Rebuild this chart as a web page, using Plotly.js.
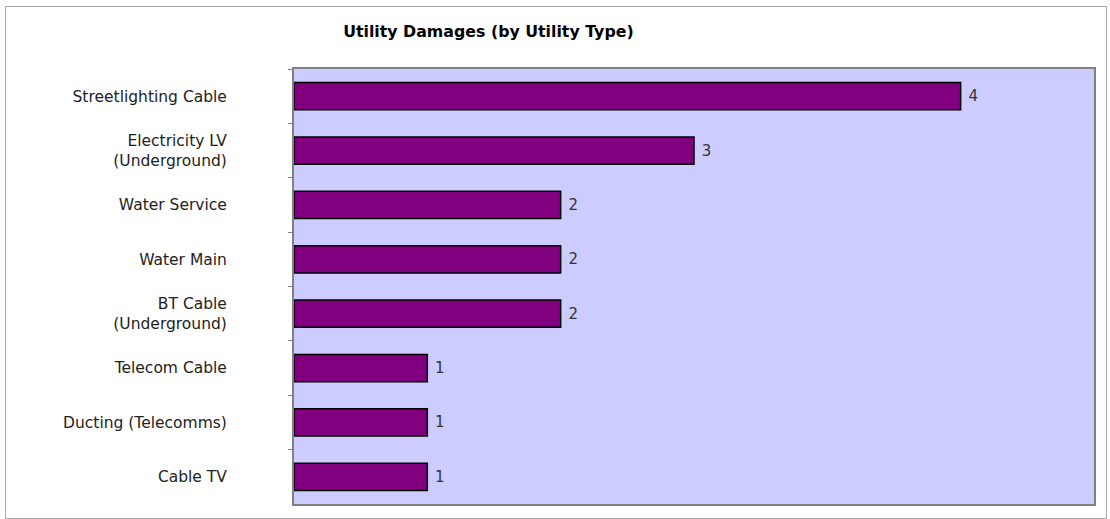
<!DOCTYPE html>
<html>
<head>
<meta charset="utf-8">
<script src="https://cdn.plot.ly/plotly-3.0.1.min.js"></script>
<style>
  body { margin: 0; background: #fff; }
  #chart { width: 1110px; height: 519px; position: absolute; left: 0; top: 0; }
  #frame { position: absolute; left: 5px; top: 6px; width: 1100px; height: 511px;
           border: 1px solid #a8a8a8; pointer-events: none; }
</style>
</head>
<body>
<div id="chart"></div>
<div id="frame"></div>
<script>
// categories, top to bottom
var categories = [
  "Streetlighting Cable",
  "Electricity LV<br>(Underground)",
  "Water Service",
  "Water Main",
  "BT Cable<br>(Underground)",
  "Telecom Cable",
  "Ducting (Telecomms)",
  "Cable TV"
];
// bar lengths as drawn (the top bar is drawn longer than its label says)
var barLengths = [5, 3, 2, 2, 2, 1, 1, 1];
// printed data labels
var dataLabels = ["4", "3", "2", "2", "2", "1", "1", "1"];

var trace = {
  type: "bar",
  orientation: "h",
  y: categories,
  x: barLengths,
  text: dataLabels,
  texttemplate: "\u00a0%{text}",
  textposition: "outside",
  cliponaxis: false,
  textfont: {family: "DejaVu Sans", size: 15, color: "#333"},
  marker: {color: "#800080", line: {color: "#000", width: 1.5}},
  hoverinfo: "none"
};

var layout = {
  width: 1110,
  height: 519,
  margin: {l: 294, r: 16, t: 69, b: 15},
  paper_bgcolor: "rgba(0,0,0,0)",
  plot_bgcolor: "#ccccff",
  showlegend: false,
  bargap: 0.5,
  font: {family: "DejaVu Sans", size: 15, color: "#222"},
  title: {
    text: "<b>Utility Damages (by Utility Type)</b>",
    font: {family: "DejaVu Sans", size: 15.8, color: "#000"},
    xref: "container", x: 0.44, xanchor: "center",
    yref: "container", y: 0.94, yanchor: "middle"
  },
  xaxis: {
    range: [0, 6],
    showticklabels: false,
    showgrid: false,
    zeroline: false,
    ticks: "",
    showline: true, mirror: true, linecolor: "#808080", linewidth: 2
  },
  yaxis: {
    type: "category",
    autorange: "reversed",
    tickson: "boundaries",
    ticks: "outside", ticklen: 4, tickcolor: "#808080",
    ticklabelstandoff: 62,
    showgrid: false,
    showline: true, mirror: true, linecolor: "#808080", linewidth: 2,
    tickfont: {family: "DejaVu Sans", size: 15.5, color: "#222"}
  }
};

Plotly.newPlot("chart", [trace], layout, {staticPlot: true});
</script>
</body>
</html>
